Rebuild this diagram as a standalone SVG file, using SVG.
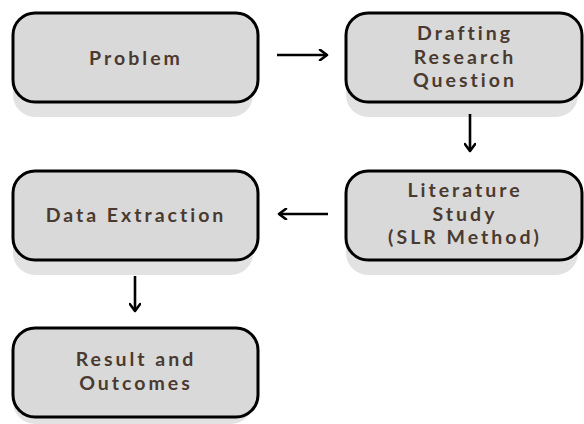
<svg xmlns="http://www.w3.org/2000/svg" width="584" height="424" viewBox="0 0 584 424">
<defs>
<marker id="ah" viewBox="0 0 12 12" refX="10" refY="6" markerWidth="12" markerHeight="12" markerUnits="userSpaceOnUse" orient="auto">
<polyline points="3,0.8 10,6 3,11.2" fill="none" stroke="#000" stroke-width="2.6" stroke-linecap="round" stroke-linejoin="round"/>
</marker>
</defs>
<style>
.sh{fill:#e2e2e2;}
.bx{fill:#d9d9d9;stroke:#000;stroke-width:3;}
.t{font-family:Lato,"Open Sans","Liberation Sans",sans-serif;font-size:19.5px;font-weight:700;fill:#4a3a30;text-anchor:middle;letter-spacing:3px;}
.c{stroke:#000;stroke-width:2.6;fill:none;marker-end:url(#ah);}
</style>
<rect width="584" height="424" fill="#fff"/>
<g id="problem">
<rect class="sh" x="13" y="27" width="240" height="90" rx="22"/>
<rect class="bx" x="13" y="13" width="245" height="89" rx="22"/>
<text class="t" x="136" y="65">Problem</text>
</g>
<g id="drafting">
<rect class="sh" x="346" y="27" width="232" height="90" rx="22"/>
<rect class="bx" x="346" y="13" width="236" height="89" rx="22"/>
<text class="t" x="465" y="40">Drafting</text>
<text class="t" x="465" y="63.5">Research</text>
<text class="t" x="465" y="87">Question</text>
</g>
<g id="literature">
<rect class="sh" x="346" y="185" width="232" height="90" rx="22"/>
<rect class="bx" x="346" y="171" width="236" height="89" rx="22"/>
<text class="t" x="465" y="197">Literature</text>
<text class="t" x="465" y="220.5">Study</text>
<text class="t" x="465" y="244">(SLR Method)</text>
</g>
<g id="extraction">
<rect class="sh" x="13" y="185" width="240" height="90" rx="22"/>
<rect class="bx" x="13" y="171" width="245" height="89" rx="22"/>
<text class="t" x="136" y="222">Data Extraction</text>
</g>
<g id="result">
<rect class="sh" x="13" y="341" width="240" height="83" rx="22"/>
<rect class="bx" x="13" y="328" width="245" height="89" rx="22"/>
<text class="t" x="136" y="366">Result and</text>
<text class="t" x="136" y="389.5">Outcomes</text>
</g>
<g id="connectors">
<line class="c" x1="277" y1="55" x2="327" y2="55"/>
<line class="c" x1="470" y1="114" x2="470" y2="151"/>
<line class="c" x1="328" y1="214" x2="279" y2="214"/>
<line class="c" x1="135" y1="276" x2="135" y2="311"/>
</g>
</svg>
